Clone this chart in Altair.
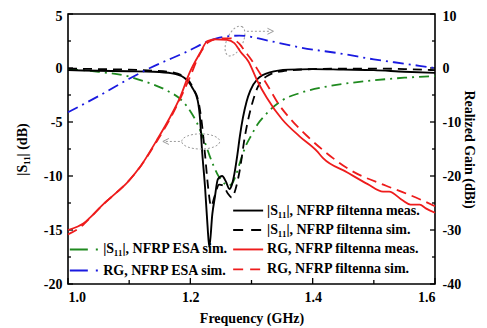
import altair as alt
import pandas as pd

FONT = "Liberation Serif"

# ---------------- data ----------------
# |S11|, NFRP filtenna meas. (GHz, dB)
f_s11_meas = [1.000, 1.050, 1.100, 1.140, 1.170, 1.190, 1.203, 1.212, 1.216, 1.219, 1.224, 1.228,
              1.231, 1.236, 1.240, 1.245, 1.252, 1.258, 1.264, 1.268, 1.272, 1.277, 1.281, 1.286,
              1.292, 1.298, 1.310, 1.330, 1.360, 1.400, 1.450, 1.500, 1.550, 1.600]
v_s11_meas = [-0.2, -0.25, -0.3, -0.35, -0.5, -0.9, -1.8, -3.0, -4.8, -7.5, -11.0, -14.5,
              -16.6, -13.5, -12.0, -10.3, -10.0, -10.5, -11.2, -10.8, -9.8, -8.0, -6.3, -4.6,
              -3.1, -2.1, -1.0, -0.4, -0.15, -0.1, -0.15, -0.2, -0.35, -0.45]

# |S11|, NFRP filtenna sim. (GHz, dB)
f_s11_sim = [1.000, 1.050, 1.100, 1.140, 1.170, 1.190, 1.205, 1.214, 1.219, 1.224, 1.229, 1.234,
             1.240, 1.247, 1.254, 1.261, 1.268, 1.274, 1.281, 1.289, 1.301, 1.310, 1.327, 1.350,
             1.400, 1.450, 1.500, 1.550, 1.600]
v_s11_sim = [-0.05, -0.1, -0.15, -0.25, -0.4, -0.8, -1.9, -3.3, -5.2, -8.0, -11.0, -12.8,
             -11.8, -10.8, -10.9, -11.6, -12.0, -11.2, -9.4, -6.4, -3.3, -1.8, -0.7, -0.3,
             -0.1, -0.05, -0.05, -0.1, -0.2]

# |S11|, NFRP ESA sim. (GHz, dB)
f_s11_esa = [1.000, 1.050, 1.100, 1.123, 1.162, 1.186, 1.200, 1.211, 1.222, 1.232, 1.244, 1.254,
             1.262, 1.268, 1.274, 1.282, 1.290, 1.300, 1.310, 1.320, 1.330, 1.350, 1.380, 1.430,
             1.490, 1.550, 1.600]
v_s11_esa = [-0.1, -0.35, -0.8, -1.2, -2.1, -3.0, -4.0, -5.1, -6.6, -8.2, -9.8, -10.6,
             -10.9, -10.7, -10.0, -8.6, -7.3, -6.2, -5.2, -4.5, -3.9, -3.0, -2.3, -1.65,
             -1.2, -0.9, -0.75]

# RG, NFRP ESA sim. (GHz, dBi)
f_rg_esa = [1.000, 1.050, 1.100, 1.134, 1.190, 1.243, 1.280, 1.330, 1.380, 1.450, 1.500, 1.550, 1.600]
v_rg_esa = [-8.2, -5.2, -2.0, 0.0, 2.8, 5.5, 6.0, 5.0, 3.8, 2.6, 1.6, 0.8, 0.0]

# RG, NFRP filtenna meas. (GHz, dBi)
f_rg_meas = [1.000, 1.015, 1.025, 1.036, 1.057, 1.080, 1.096, 1.118, 1.145, 1.165, 1.183, 1.199,
             1.216, 1.228, 1.240, 1.260, 1.272, 1.282, 1.295, 1.310, 1.325, 1.350, 1.379, 1.407,
             1.417, 1.456, 1.490, 1.515, 1.525, 1.547, 1.560, 1.575, 1.585, 1.600]
v_rg_meas = [-30.0, -29.4, -28.8, -27.7, -25.3, -23.0, -21.3, -18.3, -13.4, -9.5, -5.5, -0.8,
             2.8, 5.0, 5.3, 5.2, 4.6, 3.0, 1.2, -2.5, -5.5, -9.5, -12.7, -15.4,
             -16.7, -19.3, -21.5, -22.9, -22.9, -24.5, -25.3, -25.3, -26.0, -26.8]

# RG, NFRP filtenna sim. (GHz, dBi)
f_rg_sim = [1.000, 1.020, 1.040, 1.060, 1.080, 1.100, 1.120, 1.145, 1.165, 1.183, 1.200, 1.215,
            1.230, 1.250, 1.265, 1.280, 1.290, 1.300, 1.310, 1.325, 1.345, 1.365, 1.390, 1.420,
            1.460, 1.520, 1.554, 1.575, 1.600]
v_rg_sim = [-30.8, -29.5, -27.3, -25.0, -23.0, -20.8, -18.0, -13.6, -9.8, -5.8, -1.5, 2.5,
            4.8, 5.5, 5.5, 4.5, 3.0, 1.5, -0.3, -3.0, -6.8, -9.6, -12.5, -15.5,
            -18.8, -21.8, -23.3, -24.3, -25.6]

# axis ticks
left_major = [5, 0, -5, -10, -15, -20]
left_minor = [2.5, -2.5, -7.5, -12.5, -17.5]
right_major = [10, 0, -10, -20, -30, -40]
x_major = [1.0, 1.2, 1.4, 1.6]
x_minor = [1.1, 1.3, 1.5]

# legend texts
leg_right = ["|S₁₁|, NFRP filtenna meas.", "|S₁₁|, NFRP filtenna sim.",
             "RG,  NFRP filtenna meas.", "RG,  NFRP filtenna sim."]
leg_left = ["|S₁₁|, NFRP ESA sim.", "RG, NFRP ESA sim."]

# ---------------- chart ----------------
W, H = 367, 270
xs = alt.Scale(domain=[1.0, 1.6], nice=False, zero=False)
yl = alt.Scale(domain=[-20, 5], nice=False, zero=False)
yr = alt.Scale(domain=[-40, 10], nice=False, zero=False)

x_axis = alt.Axis(values=x_major, format=".1f", title="Frequency (GHz)", labelPadding=6,
                  titlePadding=7)
l_axis = alt.Axis(values=left_major, labelExpr="'' + datum.value", title="|S₁₁| (dB)",
                  labelPadding=6, titlePadding=14,
                  labelOffset={"condition": {"test": "datum.value == 5", "value": 2}, "value": 0})
r_axis = alt.Axis(values=right_major, labelExpr="'' + datum.value", title="Realized Gain (dBi)",
                  orient="right", labelPadding=7, titlePadding=1,
                  labelOffset={"condition": {"test": "datum.value == 10", "value": 2}, "value": 0})


def X(field):
    return alt.X(field, type="quantitative", scale=xs, axis=x_axis)


def YL(field):
    return alt.Y(field, type="quantitative", scale=yl, axis=l_axis)


def YR(field):
    return alt.Y(field, type="quantitative", scale=yr, axis=r_axis)


def df(f, v):
    return pd.DataFrame({"f": f, "v": v})


BLACK, RED, GREEN, BLUE, GREY = "#000000", "#ee1c1c", "#1f8a1f", "#1a1ae0", "#9a9a9a"

left_layers = []
right_layers = []

# curves
left_layers.append(alt.Chart(df(f_s11_esa, v_s11_esa)).mark_line(
    color=GREEN, strokeWidth=1.8, strokeDash=[10, 5, 2, 5], interpolate="monotone").encode(
    x=X("f"), y=YL("v")))
right_layers.append(alt.Chart(df(f_rg_esa, v_rg_esa)).mark_line(
    color=BLUE, strokeWidth=1.8, strokeDash=[11, 5, 2, 5], interpolate="monotone").encode(
    x=X("f"), y=YR("v")))
right_layers.append(alt.Chart(df(f_rg_sim, v_rg_sim)).mark_line(
    color=RED, strokeWidth=1.8, strokeDash=[10, 6], interpolate="monotone").encode(
    x=X("f"), y=YR("v")))
right_layers.append(alt.Chart(df(f_rg_meas, v_rg_meas)).mark_line(
    color=RED, strokeWidth=1.8, interpolate="monotone").encode(
    x=X("f"), y=YR("v")))
left_layers.append(alt.Chart(df(f_s11_sim, v_s11_sim)).mark_line(
    color=BLACK, strokeWidth=1.8, strokeDash=[9, 6], interpolate="monotone").encode(
    x=X("f"), y=YL("v")))
left_layers.append(alt.Chart(df(f_s11_meas, v_s11_meas)).mark_line(
    color=BLACK, strokeWidth=1.9, interpolate="monotone").encode(
    x=X("f"), y=YL("v")))

# inward ticks
left_layers.append(alt.Chart(pd.DataFrame({"t": left_major})).mark_rule(
    color=BLACK, strokeWidth=1.3).encode(y=YL("t"), x=alt.value(0), x2=alt.value(5)))
left_layers.append(alt.Chart(pd.DataFrame({"t": left_minor})).mark_rule(
    color=BLACK, strokeWidth=1.3).encode(y=YL("t"), x=alt.value(0), x2=alt.value(3)))
left_layers.append(alt.Chart(pd.DataFrame({"t": left_major})).mark_rule(
    color=BLACK, strokeWidth=1.3).encode(y=YL("t"), x=alt.value(W - 5), x2=alt.value(W)))
left_layers.append(alt.Chart(pd.DataFrame({"t": left_minor})).mark_rule(
    color=BLACK, strokeWidth=1.3).encode(y=YL("t"), x=alt.value(W - 3), x2=alt.value(W)))
left_layers.append(alt.Chart(pd.DataFrame({"t": x_major})).mark_rule(
    color=BLACK, strokeWidth=1.3).encode(x=X("t"), y=alt.value(H - 6), y2=alt.value(H)))
left_layers.append(alt.Chart(pd.DataFrame({"t": x_minor})).mark_rule(
    color=BLACK, strokeWidth=1.3).encode(x=X("t"), y=alt.value(H - 4), y2=alt.value(H)))

# annotations (grey dotted ellipses + arrows)
ell1 = pd.DataFrame({"f": [1.217], "v": [-6.8]})
left_layers.append(alt.Chart(ell1).mark_point(
    shape="M -1 0 A 1 0.4 0 1 1 1 0 A 1 0.4 0 1 1 -1 0 Z", size=1444, filled=False,
    color=GREY, strokeWidth=1, strokeDash=[2, 2], opacity=1).encode(x=X("f"), y=YL("v")))
ell2 = pd.DataFrame({"f": [1.273], "v": [2.5]})
left_layers.append(alt.Chart(ell2).mark_point(
    shape="M -1 0 A 1 0.5 0 1 1 1 0 A 1 0.5 0 1 1 -1 0 Z", size=1024, angle=115, filled=False,
    color=GREY, strokeWidth=1, strokeDash=[2, 2], opacity=1).encode(x=X("f"), y=YL("v")))
arr1 = pd.DataFrame({"f": [1.160], "f2": [1.186], "v": [-6.8]})
left_layers.append(alt.Chart(arr1).mark_rule(color=GREY, strokeWidth=1, strokeDash=[2, 2]).encode(
    x=X("f"), x2="f2", y=YL("v")))
left_layers.append(alt.Chart(arr1).mark_point(
    shape="M 1 -1 L -1 0 L 1 1", size=36, filled=False, color=GREY, strokeWidth=1, opacity=1).encode(
    x=X("f"), y=YL("v")))
arr2 = pd.DataFrame({"f": [1.2925], "f2": [1.331], "v": [3.4]})
left_layers.append(alt.Chart(arr2).mark_rule(color=GREY, strokeWidth=1, strokeDash=[2, 2]).encode(
    x=X("f"), x2="f2", y=YL("v")))
left_layers.append(alt.Chart(arr2).mark_point(
    shape="M -1 -1 L 1 0 L -1 1", size=36, filled=False, color=GREY, strokeWidth=1, opacity=1).encode(
    x=X("f2"), y=YL("v")))

# legends (drawn inside the plot)
rows_r = [-13.2, -15.0, -16.8, -18.65]
styles_r = [(BLACK, None), (BLACK, [10, 8]), (RED, None), (RED, [10, 7])]
for txt, yv, (col, dash) in zip(leg_right, rows_r, styles_r):
    d = pd.DataFrame({"f": [1.270], "f2": [1.319], "v": [yv], "t": [txt]})
    kw = dict(color=col, strokeWidth=1.9)
    if dash:
        kw["strokeDash"] = dash
    left_layers.append(alt.Chart(d).mark_rule(**kw).encode(x=X("f"), x2="f2", y=YL("v")))
    left_layers.append(alt.Chart(d).mark_text(
        align="left", baseline="middle", dx=4, font=FONT, fontSize=14, fontWeight="bold",
        color=BLACK).encode(x=X("f2"), y=YL("v"), text="t:N"))

rows_l = [-16.8, -18.75]
styles_l = [GREEN, BLUE]
for txt, yv, col in zip(leg_left, rows_l, styles_l):
    d = pd.DataFrame({"f": [1.003], "f2": [1.051], "v": [yv], "t": [txt]})
    left_layers.append(alt.Chart(d).mark_rule(color=col, strokeWidth=1.9, strokeDash=[18, 8, 2, 40]).encode(
        x=X("f"), x2="f2", y=YL("v")))
    left_layers.append(alt.Chart(d).mark_text(
        align="left", baseline="middle", dx=4, font=FONT, fontSize=14, fontWeight="bold",
        color=BLACK).encode(x=X("f2"), y=YL("v"), text="t:N"))

left = alt.layer(*left_layers)
right = alt.layer(*right_layers)

chart = alt.layer(left, right).resolve_scale(y="independent").properties(
    width=W, height=H,
    autosize=alt.AutoSizeParams(type="none"),
    padding={"left": 60, "top": 6, "right": 44, "bottom": 42},
    background="white",
).configure_axis(
    grid=False, domain=False, ticks=False,
    labelFont=FONT, labelFontSize=14, labelFontWeight="bold", labelColor=BLACK,
    titleFont=FONT, titleFontSize=14, titleFontWeight="bold", titleColor=BLACK,
).configure_view(stroke=BLACK, strokeWidth=1.6)

chart.save("out.html", embed_options={"renderer": "svg", "actions": False})
